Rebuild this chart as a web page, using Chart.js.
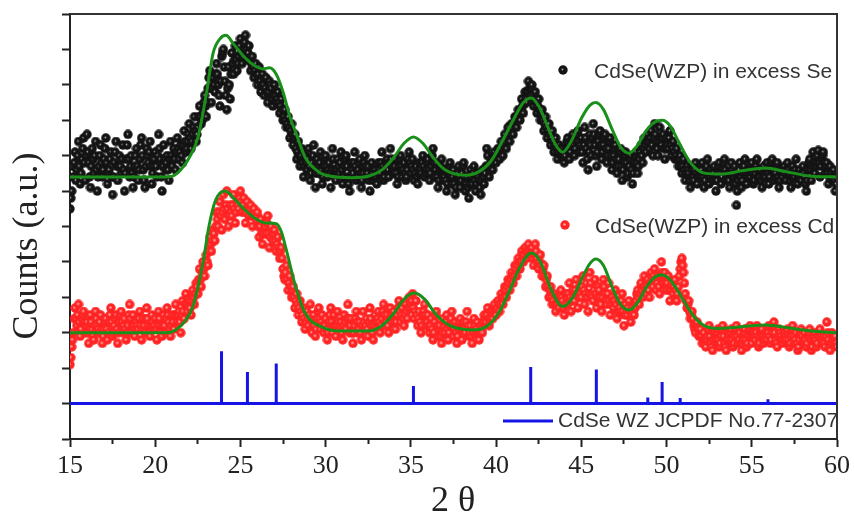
<!DOCTYPE html>
<html>
<head>
<meta charset="utf-8">
<title>CdSe XRD</title>
<script src="https://cdn.jsdelivr.net/npm/chart.js@4.4.1/dist/chart.umd.min.js"></script>
<style>
  html, body { margin: 0; padding: 0; background: #fff; }
  #wrap { width: 854px; height: 529px; }
</style>
</head>
<body>
<div id="wrap"><canvas id="xrd" width="854" height="529"></canvas></div>
<script>
'use strict';

// scan grid (2 theta), one reading every 0.05 degree from 15 to 60
const scanStart = 15;
const scanStep = 0.05;

// CdSe(WZP) in excess Se (a.u., offset stack), 20 readings per degree
const countsSe = [
  6.5, 6.8, 7.0, 7.7, 7.4, 7.8, 8.1, 7.3, 7.6, 8.0, 8.4, 7.7, 7.2, 7.5, 7.9, 8.2, 8.5, 7.8, 7.3, 8.0,
  8.6, 8.1, 7.8, 7.4, 7.1, 7.7, 8.2, 7.9, 7.5, 8.0, 8.4, 7.6, 7.0, 7.4, 7.7, 8.0, 8.3, 7.8, 7.4, 7.6,
  7.9, 8.2, 8.5, 7.8, 7.2, 7.5, 7.6, 7.9, 8.1, 7.4, 6.9, 7.4, 7.8, 8.1, 8.4, 7.7, 7.3, 7.7, 8.0, 7.7,
  7.5, 7.9, 8.3, 7.6, 7.0, 7.5, 7.9, 8.3, 8.6, 7.9, 7.4, 7.7, 8.0, 7.5, 7.1, 7.4, 7.7, 8.0, 8.2, 7.7,
  7.3, 7.6, 7.9, 8.3, 8.5, 8.0, 7.6, 7.3, 7.1, 7.7, 8.2, 8.0, 7.8, 8.1, 8.4, 7.7, 7.2, 7.5, 7.7, 7.9,
  8.1, 7.7, 7.4, 8.0, 8.6, 8.2, 7.9, 7.4, 7.0, 7.7, 8.3, 7.9, 7.6, 7.8, 8.0, 7.6, 7.3, 7.9, 8.4, 8.0,
  7.7, 7.9, 8.2, 7.9, 7.6, 8.1, 8.5, 8.2, 7.9, 8.1, 8.3, 8.0, 7.8, 8.3, 8.7, 8.4, 8.1, 8.2, 8.4, 8.6,
  8.9, 8.5, 8.2, 8.4, 8.6, 8.8, 9.1, 8.7, 8.4, 8.6, 8.8, 9.1, 9.4, 9.1, 8.9, 9.0, 9.2, 9.5, 9.7, 9.4,
  9.1, 9.5, 9.9, 10.2, 10.4, 9.9, 9.5, 9.9, 10.2, 10.0, 9.8, 10.3, 10.6, 10.3, 10.0, 9.7, 9.4, 10.1, 10.8, 10.9,
  11.0, 10.5, 10.1, 9.7, 9.3, 9.9, 10.5, 10.0, 9.6, 10.3, 10.9, 10.6, 10.3, 10.7, 11.1, 10.7, 10.4, 10.6, 10.8, 11.1,
  11.3, 10.9, 10.6, 10.8, 11.0, 11.2, 11.4, 11.0, 10.7, 10.9, 11.1, 10.7, 10.4, 10.6, 10.8, 10.5, 10.2, 10.4, 10.6, 10.3,
  10.0, 10.3, 10.5, 10.1, 9.8, 10.0, 10.3, 10.0, 9.7, 9.9, 10.2, 9.8, 9.5, 9.8, 10.1, 10.0, 9.9, 9.6, 9.4, 9.7,
  10.0, 9.7, 9.5, 9.6, 9.8, 9.5, 9.2, 9.4, 9.6, 9.3, 9.0, 9.1, 9.3, 9.0, 8.8, 8.9, 9.1, 8.8, 8.5, 8.7,
  8.9, 8.6, 8.3, 8.5, 8.6, 8.2, 7.9, 8.1, 8.4, 8.0, 7.7, 8.0, 8.2, 7.8, 7.4, 7.7, 8.0, 7.8, 7.6, 7.9,
  8.2, 7.7, 7.3, 7.5, 7.8, 8.0, 8.3, 7.7, 7.1, 7.5, 7.9, 7.7, 7.5, 7.8, 8.1, 7.6, 7.2, 7.4, 7.7, 7.9,
  8.0, 7.7, 7.4, 7.6, 7.8, 7.5, 7.1, 7.6, 8.2, 7.9, 7.6, 7.4, 7.3, 7.6, 7.9, 7.7, 7.5, 7.8, 8.1, 7.6,
  7.2, 7.4, 7.7, 7.9, 8.0, 7.7, 7.4, 7.2, 7.0, 7.4, 7.8, 7.6, 7.5, 7.8, 8.1, 7.7, 7.3, 7.4, 7.6, 7.8,
  7.9, 7.5, 7.1, 7.3, 7.5, 7.8, 8.0, 7.7, 7.4, 7.5, 7.7, 7.3, 7.0, 7.4, 7.8, 7.5, 7.3, 7.4, 7.6, 7.4,
  7.2, 7.5, 7.8, 7.6, 7.5, 7.8, 8.1, 7.7, 7.3, 7.4, 7.6, 7.8, 7.9, 7.6, 7.4, 7.8, 8.2, 7.9, 7.7, 7.6,
  7.5, 7.7, 7.9, 7.5, 7.2, 7.4, 7.7, 7.9, 8.0, 7.7, 7.4, 7.6, 7.8, 7.5, 7.3, 7.4, 7.6, 7.9, 8.1, 7.8,
  7.5, 7.7, 7.9, 7.6, 7.3, 7.5, 7.7, 7.4, 7.2, 7.5, 7.8, 7.6, 7.5, 7.8, 8.0, 7.7, 7.4, 7.5, 7.6, 7.8,
  7.9, 7.6, 7.3, 7.5, 7.7, 8.0, 8.2, 7.8, 7.4, 7.6, 7.8, 7.4, 7.1, 7.3, 7.6, 7.7, 7.9, 7.6, 7.3, 7.4,
  7.6, 7.3, 7.0, 7.2, 7.5, 7.7, 7.8, 7.5, 7.2, 7.4, 7.6, 7.2, 6.9, 7.1, 7.4, 7.5, 7.7, 7.4, 7.1, 7.3,
  7.5, 7.7, 7.8, 7.4, 7.0, 7.2, 7.4, 7.1, 6.8, 7.2, 7.6, 7.4, 7.2, 7.5, 7.7, 7.3, 7.0, 7.2, 7.5, 7.4,
  7.3, 7.1, 6.9, 7.3, 7.6, 7.4, 7.2, 7.5, 7.7, 8.2, 8.0, 7.7, 7.4, 7.7, 7.9, 7.8, 7.6, 7.9, 8.1, 7.9,
  7.8, 8.0, 8.2, 8.1, 7.9, 8.2, 8.4, 8.2, 8.0, 8.3, 8.6, 8.4, 8.2, 8.5, 8.8, 8.6, 8.4, 8.7, 8.9, 8.8,
  8.6, 8.9, 9.1, 9.0, 8.8, 9.1, 9.3, 9.2, 9.0, 9.3, 9.6, 9.4, 9.2, 9.5, 9.8, 9.6, 9.5, 9.8, 10.1, 9.9,
  9.7, 9.9, 10.0, 9.7, 9.4, 9.6, 9.8, 9.5, 9.2, 9.4, 9.6, 9.3, 9.0, 9.2, 9.3, 9.0, 8.7, 8.9, 9.1, 8.8,
  8.5, 8.7, 8.9, 8.6, 8.3, 8.5, 8.7, 8.4, 8.1, 8.3, 8.5, 8.2, 7.9, 8.1, 8.3, 8.2, 8.0, 8.1, 8.2, 8.0,
  7.8, 8.0, 8.2, 8.4, 8.5, 8.2, 7.9, 8.1, 8.3, 8.5, 8.6, 8.3, 8.0, 8.2, 8.4, 8.6, 8.7, 8.4, 8.1, 8.3,
  8.5, 8.1, 7.8, 8.3, 8.8, 8.5, 8.2, 7.9, 7.6, 8.1, 8.6, 8.3, 8.0, 8.5, 8.9, 8.6, 8.3, 8.0, 7.7, 8.1,
  8.4, 8.6, 8.7, 8.3, 7.9, 8.1, 8.3, 8.5, 8.6, 8.2, 7.8, 8.0, 8.2, 8.4, 8.5, 8.0, 7.6, 7.8, 8.0, 8.2,
  8.3, 7.9, 7.5, 7.7, 7.9, 8.1, 8.2, 7.7, 7.3, 7.6, 7.8, 8.0, 8.1, 7.8, 7.4, 7.5, 7.7, 7.9, 8.0, 7.6,
  7.2, 7.5, 7.8, 8.0, 8.1, 7.8, 7.5, 7.7, 7.9, 8.1, 8.3, 8.0, 7.8, 8.2, 8.5, 8.3, 8.1, 8.4, 8.6, 8.4,
  8.2, 8.5, 8.7, 8.3, 8.0, 8.5, 8.9, 8.6, 8.4, 8.2, 8.0, 8.4, 8.8, 8.5, 8.3, 8.5, 8.6, 8.2, 7.9, 8.2,
  8.5, 8.3, 8.2, 8.5, 8.7, 8.3, 8.0, 8.2, 8.4, 8.1, 7.9, 8.0, 8.2, 7.9, 7.7, 7.9, 8.0, 7.7, 7.5, 7.7,
  7.9, 7.6, 7.3, 7.5, 7.7, 7.6, 7.5, 7.3, 7.1, 7.4, 7.6, 7.4, 7.3, 7.6, 7.8, 7.5, 7.2, 7.4, 7.6, 7.5,
  7.4, 7.6, 7.8, 7.4, 7.1, 7.3, 7.5, 7.7, 7.9, 7.5, 7.2, 7.4, 7.6, 7.5, 7.3, 7.5, 7.7, 7.3, 7.0, 7.3,
  7.5, 7.7, 7.8, 7.5, 7.2, 7.4, 7.6, 7.8, 7.9, 7.6, 7.3, 7.4, 7.5, 7.3, 7.1, 7.5, 7.8, 7.6, 7.4, 7.5,
  7.7, 7.2, 6.6, 7.0, 7.3, 7.6, 7.8, 7.4, 7.1, 7.3, 7.5, 7.7, 7.9, 7.5, 7.2, 7.4, 7.6, 7.5, 7.4, 7.6,
  7.8, 7.5, 7.2, 7.3, 7.5, 7.7, 7.9, 7.6, 7.3, 7.4, 7.6, 7.3, 7.1, 7.4, 7.7, 7.5, 7.4, 7.6, 7.8, 7.5,
  7.2, 7.4, 7.6, 7.8, 7.9, 7.6, 7.3, 7.4, 7.5, 7.7, 7.8, 7.4, 7.1, 7.3, 7.6, 7.5, 7.4, 7.6, 7.7, 7.5,
  7.3, 7.6, 7.8, 7.6, 7.5, 7.3, 7.1, 7.4, 7.7, 7.5, 7.4, 7.6, 7.9, 7.5, 7.2, 7.4, 7.6, 7.4, 7.3, 7.5,
  7.7, 7.5, 7.4, 7.2, 7.0, 7.3, 7.6, 7.8, 7.9, 7.6, 7.3, 7.7, 8.1, 7.8, 7.5, 7.7, 7.8, 8.0, 8.15, 7.8,
  7.4, 7.7, 7.9, 8.0, 8.1, 7.8, 7.5, 7.7, 7.8, 7.5, 7.2, 7.4, 7.7, 7.5, 7.3, 7.4, 7.6, 7.3, 7.0, 7.2,
  7.4
];

// CdSe(WZP) in excess Cd
const countsCd = [
  2.1, 2.3, 2.6, 2.8, 3.0, 3.4, 3.7, 3.4, 3.2, 3.5, 3.8, 3.3, 2.9, 3.1, 3.4, 3.5, 3.6, 3.3, 3.0, 3.2,
  3.3, 3.0, 2.7, 3.1, 3.5, 3.3, 3.1, 2.9, 2.8, 3.2, 3.6, 3.4, 3.2, 3.1, 3.0, 3.3, 3.5, 3.1, 2.7, 2.9,
  3.1, 3.3, 3.4, 3.1, 2.8, 3.0, 3.3, 3.5, 3.7, 3.3, 2.9, 3.0, 3.2, 3.4, 3.5, 3.1, 2.7, 3.0, 3.3, 3.5,
  3.6, 3.3, 3.0, 3.2, 3.4, 3.1, 2.8, 3.0, 3.2, 3.5, 3.8, 3.4, 3.0, 3.2, 3.5, 3.2, 2.9, 3.1, 3.3, 3.2,
  3.1, 3.4, 3.6, 3.2, 2.8, 3.1, 3.4, 3.2, 3.0, 3.4, 3.7, 3.4, 3.2, 3.0, 2.9, 3.2, 3.5, 3.3, 3.1, 3.2,
  3.4, 3.1, 2.8, 3.2, 3.6, 3.4, 3.2, 3.0, 2.9, 3.2, 3.5, 3.2, 3.0, 3.4, 3.7, 3.5, 3.3, 3.1, 2.9, 3.2,
  3.5, 3.3, 3.1, 3.5, 3.8, 3.5, 3.3, 3.5, 3.6, 3.3, 3.0, 3.5, 3.9, 3.6, 3.4, 3.8, 4.1, 3.8, 3.6, 3.8,
  3.9, 3.7, 3.5, 3.9, 4.2, 4.0, 3.8, 4.1, 4.4, 4.3, 4.1, 4.5, 4.8, 4.5, 4.3, 4.7, 5.0, 4.8, 4.6, 4.9,
  5.2, 5.0, 4.9, 5.3, 5.7, 5.5, 5.3, 5.6, 5.9, 5.8, 5.6, 6.0, 6.4, 6.2, 6.0, 6.4, 6.7, 6.3, 5.9, 6.4,
  6.9, 6.5, 6.2, 6.6, 7.0, 6.5, 6.0, 6.3, 6.6, 6.4, 6.3, 6.6, 6.9, 6.5, 6.1, 6.4, 6.7, 6.6, 6.5, 6.8,
  7.0, 6.7, 6.4, 6.6, 6.8, 6.4, 6.1, 6.4, 6.7, 6.5, 6.3, 6.5, 6.6, 6.3, 6.0, 6.3, 6.5, 6.3, 6.2, 6.3,
  6.4, 6.0, 5.7, 6.0, 6.2, 5.8, 5.5, 5.8, 6.1, 6.0, 5.8, 6.1, 6.3, 5.8, 5.4, 5.7, 6.0, 5.8, 5.6, 5.8,
  5.9, 5.6, 5.3, 5.5, 5.7, 5.4, 5.1, 5.3, 5.4, 5.1, 4.8, 4.6, 4.5, 4.7, 4.9, 4.5, 4.2, 4.4, 4.6, 4.3,
  4.0, 4.2, 4.3, 4.0, 3.7, 3.9, 4.1, 3.8, 3.5, 3.7, 3.9, 3.6, 3.3, 3.5, 3.7, 3.4, 3.1, 3.3, 3.6, 3.4,
  3.2, 3.5, 3.8, 3.4, 3.0, 3.2, 3.5, 3.2, 2.9, 3.1, 3.4, 3.6, 3.7, 3.4, 3.1, 3.3, 3.5, 3.2, 3.0, 3.2,
  3.4, 3.1, 2.8, 3.0, 3.3, 3.5, 3.7, 3.3, 3.0, 3.2, 3.5, 3.2, 2.9, 3.2, 3.6, 3.3, 3.1, 3.2, 3.3, 3.0,
  2.8, 3.2, 3.5, 3.3, 3.1, 3.4, 3.8, 3.4, 3.0, 3.2, 3.4, 3.0, 2.7, 3.0, 3.2, 3.4, 3.6, 3.3, 3.0, 3.1,
  3.3, 3.0, 2.8, 3.2, 3.6, 3.3, 3.1, 3.2, 3.4, 3.1, 2.9, 3.3, 3.7, 3.4, 3.2, 3.0, 2.8, 3.2, 3.5, 3.3,
  3.1, 3.4, 3.6, 3.3, 3.0, 3.2, 3.4, 3.6, 3.8, 3.5, 3.2, 3.3, 3.5, 3.2, 3.0, 3.4, 3.7, 3.5, 3.3, 3.5,
  3.6, 3.3, 3.1, 3.3, 3.5, 3.7, 3.9, 3.6, 3.3, 3.5, 3.7, 3.4, 3.2, 3.5, 3.8, 3.6, 3.4, 3.7, 4.0, 3.8,
  3.7, 3.9, 4.1, 3.7, 3.4, 3.6, 3.9, 3.5, 3.2, 3.4, 3.6, 3.3, 3.0, 3.2, 3.5, 3.6, 3.8, 3.5, 3.2, 3.3,
  3.5, 3.2, 3.0, 3.2, 3.4, 3.1, 2.8, 3.0, 3.3, 3.5, 3.6, 3.2, 2.9, 3.1, 3.2, 2.9, 2.7, 3.0, 3.4, 3.2,
  3.0, 3.3, 3.5, 3.1, 2.8, 3.0, 3.2, 3.4, 3.6, 3.2, 2.9, 3.1, 3.3, 3.0, 2.7, 2.9, 3.1, 3.3, 3.4, 3.1,
  2.8, 3.1, 3.3, 3.1, 3.0, 3.3, 3.6, 3.2, 2.9, 3.0, 3.2, 2.9, 2.7, 3.0, 3.4, 3.2, 3.0, 3.1, 3.3, 3.0,
  2.8, 3.0, 3.2, 3.1, 3.0, 3.3, 3.5, 3.4, 3.3, 3.5, 3.7, 3.4, 3.2, 3.4, 3.6, 3.5, 3.4, 3.6, 3.8, 3.6,
  3.5, 3.7, 3.9, 3.8, 3.6, 3.8, 4.1, 4.0, 3.8, 4.0, 4.3, 4.2, 4.0, 4.3, 4.5, 4.4, 4.2, 4.5, 4.7, 4.6,
  4.4, 4.6, 4.9, 4.8, 4.6, 4.9, 5.1, 5.0, 4.8, 5.0, 5.3, 5.2, 5.0, 5.2, 5.4, 5.3, 5.1, 5.3, 5.5, 5.3,
  5.2, 5.3, 5.4, 5.1, 4.9, 5.2, 5.5, 5.3, 5.1, 4.9, 4.8, 5.0, 5.2, 4.9, 4.6, 4.8, 4.9, 4.6, 4.3, 4.5,
  4.6, 4.3, 4.0, 4.2, 4.3, 4.0, 3.8, 3.9, 4.1, 3.8, 3.6, 3.8, 4.0, 3.8, 3.7, 4.0, 4.2, 4.0, 3.9, 3.7,
  3.5, 3.8, 4.1, 4.0, 3.8, 4.1, 4.4, 4.0, 3.6, 3.9, 4.2, 4.0, 3.9, 4.2, 4.5, 4.1, 3.7, 4.0, 4.3, 4.1,
  4.0, 4.3, 4.6, 4.2, 3.8, 4.1, 4.4, 4.0, 3.6, 4.1, 4.7, 4.4, 4.1, 4.0, 3.9, 4.2, 4.5, 4.1, 3.7, 4.0,
  4.3, 4.2, 4.0, 3.8, 3.6, 4.0, 4.5, 4.3, 4.1, 3.9, 3.8, 4.1, 4.4, 3.9, 3.5, 3.8, 4.0, 3.9, 3.7, 3.9,
  4.2, 3.8, 3.4, 3.6, 3.9, 3.7, 3.6, 3.9, 4.1, 3.6, 3.2, 3.5, 3.8, 3.6, 3.5, 3.7, 3.9, 3.6, 3.3, 3.5,
  3.7, 3.6, 3.5, 3.7, 3.9, 4.1, 4.2, 4.0, 3.8, 4.1, 4.4, 4.2, 4.0, 4.3, 4.6, 4.3, 4.1, 4.3, 4.5, 4.2,
  4.0, 4.4, 4.7, 4.5, 4.3, 4.6, 4.8, 4.5, 4.2, 4.4, 4.6, 4.3, 4.1, 4.6, 5.0, 4.7, 4.4, 4.6, 4.7, 4.4,
  4.2, 4.4, 4.6, 4.2, 3.9, 4.2, 4.4, 4.3, 4.1, 4.3, 4.5, 4.2, 3.9, 4.1, 4.3, 4.6, 4.8, 5.0, 5.1, 4.9,
  4.7, 4.4, 4.1, 3.9, 3.7, 3.8, 3.9, 3.6, 3.4, 3.5, 3.6, 3.4, 3.2, 3.1, 3.0, 3.2, 3.3, 3.1, 2.9, 3.0,
  3.1, 2.9, 2.7, 2.8, 3.0, 2.8, 2.6, 2.8, 2.9, 3.1, 3.2, 2.9, 2.7, 2.6, 2.5, 2.8, 3.0, 2.9, 2.8, 3.0,
  3.1, 2.8, 2.6, 2.7, 2.9, 3.1, 3.2, 2.9, 2.7, 2.6, 2.5, 2.8, 3.0, 2.9, 2.8, 3.0, 3.1, 2.8, 2.6, 2.7,
  2.9, 3.1, 3.2, 2.9, 2.7, 2.8, 3.0, 2.7, 2.5, 2.7, 2.8, 3.0, 3.1, 2.8, 2.6, 2.7, 2.9, 3.1, 3.2, 2.9,
  2.7, 2.9, 3.0, 2.9, 2.8, 3.0, 3.2, 2.9, 2.6, 2.7, 2.9, 3.0, 3.1, 2.9, 2.7, 2.8, 3.0, 2.9, 2.8, 3.0,
  3.2, 2.9, 2.7, 2.8, 3.0, 3.2, 3.3, 3.0, 2.8, 2.7, 2.6, 2.9, 3.1, 3.0, 2.9, 2.8, 2.7, 2.8, 3.0, 2.9,
  2.8, 3.0, 3.1, 2.8, 2.6, 2.7, 2.9, 3.1, 3.2, 2.9, 2.7, 2.8, 3.0, 2.7, 2.5, 2.6, 2.8, 3.0, 3.1, 2.9,
  2.7, 2.8, 3.0, 2.8, 2.6, 2.7, 2.9, 3.0, 3.1, 2.8, 2.5, 2.6, 2.8, 2.9, 3.0, 2.8, 2.6, 2.7, 2.9, 3.0,
  3.1, 2.9, 2.7, 2.8, 2.9, 2.7, 2.6, 2.9, 3.3, 3.0, 2.8, 2.6, 2.5, 2.7, 3.0, 2.8, 2.7, 2.8, 2.9, 2.7,
  2.6
];

// fitted profiles (green lines)
const fitSeX = [15, 20.5, 21.0, 21.5, 22.0, 22.5, 23.0, 23.4, 23.8, 24.15, 24.6, 25.2, 25.8, 26.3, 26.7, 27.1, 27.5, 27.9, 28.25, 28.8, 29.6, 30.3, 31.5, 32.5, 33.3, 34.0, 34.6, 35.15, 35.7, 36.3, 37.0, 38.2, 39.0, 39.7, 40.3, 41.0, 41.6, 42.05, 42.5, 43.0, 43.5, 43.9, 44.4, 45.0, 45.5, 45.85, 46.3, 46.8, 47.3, 47.8, 48.3, 48.8, 49.3, 49.75, 50.2, 50.7, 51.2, 51.7, 52.3, 53.2, 54.5, 55.8, 57.0, 58.5, 60];
const fitSeY = [7.4, 7.4, 7.42, 7.6, 7.95, 8.5, 9.75, 10.9, 11.3, 11.4, 11.15, 10.8, 10.55, 10.45, 10.48, 10.3, 9.8, 9.1, 8.65, 7.95, 7.54, 7.42, 7.38, 7.42, 7.6, 7.95, 8.35, 8.53, 8.35, 7.95, 7.6, 7.45, 7.55, 7.85, 8.35, 9.0, 9.5, 9.63, 9.4, 8.85, 8.3, 8.1, 8.4, 9.05, 9.42, 9.5, 9.3, 8.75, 8.25, 8.07, 8.3, 8.7, 8.95, 9.0, 8.85, 8.4, 7.95, 7.65, 7.5, 7.48, 7.58, 7.65, 7.55, 7.42, 7.4];
const fitCdX = [15, 20.7, 21.2, 21.7, 22.2, 22.8, 23.15, 23.55, 24.1, 24.6, 25.2, 25.8, 26.5, 27.1, 27.4, 27.65, 28.24, 28.8, 29.8, 30.8, 32.5, 33.3, 34.0, 34.6, 35.2, 35.8, 36.5, 37.3, 38.6, 39.5, 40.2, 40.8, 41.4, 42.05, 42.6, 43.2, 43.9, 44.5, 45.1, 45.5, 45.85, 46.3, 46.8, 47.3, 47.8, 48.3, 48.9, 49.4, 49.75, 50.2, 50.7, 51.2, 51.7, 52.2, 52.9, 54.0, 55.0, 55.8, 57.0, 58.5, 60];
const fitCdY = [3.0, 3.0, 3.08, 3.3, 3.73, 4.97, 6.0, 6.75, 7.0, 6.8, 6.5, 6.25, 6.1, 6.08, 5.85, 5.42, 4.3, 3.55, 3.16, 3.05, 3.05, 3.2, 3.55, 3.95, 4.12, 3.95, 3.5, 3.2, 3.08, 3.2, 3.6, 4.2, 4.85, 5.25, 5.0, 4.25, 3.74, 4.0, 4.6, 4.95, 5.08, 4.9, 4.3, 3.8, 3.64, 3.85, 4.35, 4.6, 4.63, 4.5, 4.15, 3.75, 3.4, 3.2, 3.12, 3.15, 3.2, 3.22, 3.15, 3.05, 3.0];

// JCPDF 77-2307 reference lines
const refBase = 1.0;
const refPos = [23.89, 25.41, 27.10, 35.15, 42.03, 45.88, 48.90, 49.74, 50.80, 55.95];
const refTop = [2.48, 1.89, 2.13, 1.50, 2.03, 1.96, 1.17, 1.61, 1.16, 1.12];

const xTickLabels = ['15', '20', '25', '30', '35', '40', '45', '50', '55', '60'];

const labelSe = 'CdSe(WZP) in excess Se';
const labelCd = 'CdSe(WZP) in excess Cd';
const labelRef = 'CdSe WZ JCPDF No.77-2307';

const green = '#1a901a';
const blue = '#1414e6';
const axisColor = '#222';

// helpers
function scan(values){
  return values.map((v, i) => ({x: +(scanStart + i * scanStep).toFixed(2), y: v}));
}
function pairs(xs, ys){
  return xs.map((x, i) => ({x: x, y: ys[i]}));
}
function refLines(){
  let pts = [{x: 15, y: refBase}];
  for(let i = 0; i < refPos.length; i++){
    pts.push({x: refPos[i], y: refBase});
    pts.push({x: refPos[i], y: refTop[i]});
    pts.push({x: refPos[i], y: refBase});
  }
  pts.push({x: 60, y: refBase});
  return pts;
}
function makeDot(fill, core, coreR){
  let c = document.createElement('canvas');
  c.width = 10;
  c.height = 10;
  let g = c.getContext('2d');
  g.beginPath();
  g.arc(5, 5, 4.7, 0, Math.PI * 2);
  g.fillStyle = fill;
  g.fill();
  g.beginPath();
  g.arc(4.5, 4.5, coreR, 0, Math.PI * 2);
  g.fillStyle = core;
  g.fill();
  return c;
}

const dotSe = makeDot('#141414', 'rgba(200,200,200,0.85)', 0.9);
const dotCd = makeDot('#ff2424', '#ff9c9c', 1.3);

// frame, axis titles and the in-plot legend
const decorations = {
  id: 'decorations',
  afterDraw(chart){
    const ctx = chart.ctx;
    const area = chart.chartArea;
    ctx.save();

    // top and right border
    ctx.strokeStyle = '#333';
    ctx.lineWidth = 2;
    ctx.beginPath();
    ctx.moveTo(area.left, area.top);
    ctx.lineTo(area.right, area.top);
    ctx.lineTo(area.right, area.bottom);
    ctx.stroke();

    // axis titles
    ctx.fillStyle = axisColor;
    ctx.font = '36px "Liberation Serif", "Times New Roman", serif';
    ctx.textAlign = 'center';
    ctx.textBaseline = 'alphabetic';
    ctx.fillText('2 \u03b8', 453, 511);
    ctx.save();
    ctx.translate(37, 246);
    ctx.rotate(-Math.PI / 2);
    ctx.fillText('Counts (a.u.)', 0, 0);
    ctx.restore();

    // legend
    ctx.font = '21px "Liberation Sans", Arial, sans-serif';
    ctx.fillStyle = '#333';
    ctx.textAlign = 'left';
    ctx.textBaseline = 'middle';
    ctx.drawImage(dotSe, 558, 65);
    ctx.fillText(labelSe, 594, 72);
    ctx.drawImage(dotCd, 560, 220);
    ctx.fillText(labelCd, 595, 227);
    ctx.strokeStyle = blue;
    ctx.lineWidth = 3;
    ctx.beginPath();
    ctx.moveTo(503, 421);
    ctx.lineTo(553, 421);
    ctx.stroke();
    ctx.fillText(labelRef, 558, 421);

    ctx.restore();
  }
};

new Chart(document.getElementById('xrd'), {
  type: 'scatter',
  data: {
    datasets: [
      {
        label: 'fit Se',
        data: pairs(fitSeX, fitSeY),
        showLine: true,
        borderColor: green,
        borderWidth: 3,
        pointRadius: 0,
        cubicInterpolationMode: 'monotone',
        order: 0
      },
      {
        label: 'fit Cd',
        data: pairs(fitCdX, fitCdY),
        showLine: true,
        borderColor: green,
        borderWidth: 3,
        pointRadius: 0,
        cubicInterpolationMode: 'monotone',
        order: 0
      },
      {
        label: labelRef,
        data: refLines(),
        showLine: true,
        borderColor: blue,
        borderWidth: 3,
        pointRadius: 0,
        tension: 0,
        order: 1
      },
      {
        label: labelSe,
        data: scan(countsSe),
        pointStyle: dotSe,
        order: 3
      },
      {
        label: labelCd,
        data: scan(countsCd),
        pointStyle: dotCd,
        order: 2
      }
    ]
  },
  options: {
    responsive: false,
    animation: false,
    devicePixelRatio: 1,
    layout: {padding: {left: 0, right: 14, top: 14, bottom: 0}},
    plugins: {
      legend: {display: false},
      tooltip: {enabled: false}
    },
    scales: {
      x: {
        type: 'linear',
        min: 15,
        max: 60,
        afterFit: (s) => { s.height = 90; },
        border: {display: true, color: axisColor, width: 2},
        grid: {
          drawOnChartArea: false,
          drawTicks: true,
          tickLength: 8,
          tickWidth: 2,
          tickColor: axisColor,
          tickBorderDash: (c) => (c.tick && c.tick.value % 5 !== 0) ? [4, 30] : []
        },
        ticks: {
          stepSize: 2.5,
          padding: 4,
          color: axisColor,
          font: {family: '"Liberation Serif", "Times New Roman", serif', size: 26},
          callback: (v) => (v % 5 === 0) ? xTickLabels[(v - 15) / 5] : ''
        }
      },
      y: {
        type: 'linear',
        min: 0,
        max: 12,
        afterFit: (s) => { s.width = 70; },
        border: {display: true, color: axisColor, width: 2},
        grid: {
          drawOnChartArea: false,
          drawTicks: true,
          tickLength: 8,
          tickWidth: 2,
          tickColor: axisColor
        },
        ticks: {stepSize: 1, display: false}
      }
    }
  },
  plugins: [decorations]
});
</script>
</body>
</html>
